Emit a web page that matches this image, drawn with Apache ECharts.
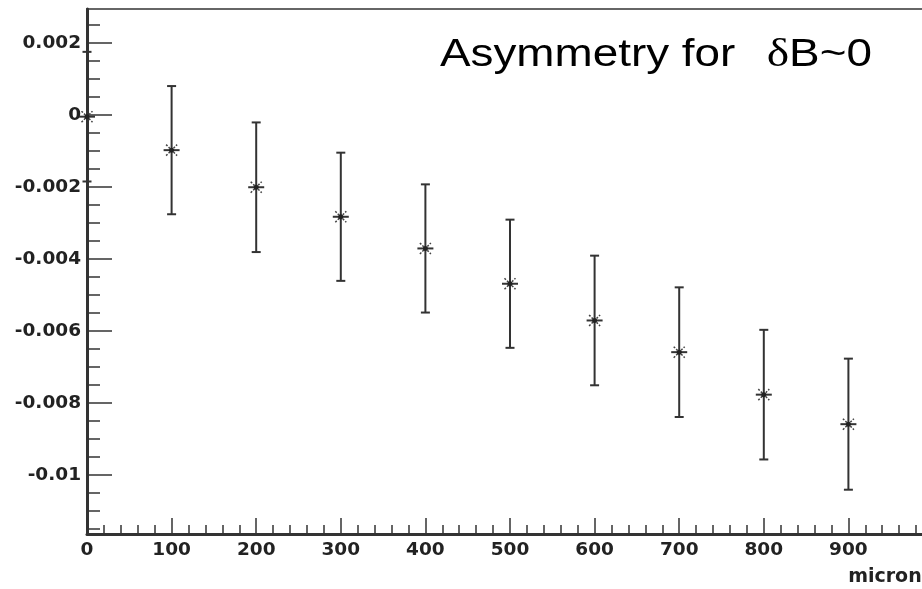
<!DOCTYPE html>
<html>
<head>
<meta charset="utf-8">
<script src="https://cdn.jsdelivr.net/npm/echarts@6/dist/echarts.min.js"></script>
<style>html,body{margin:0;padding:0;background:#fff;}#c{width:922px;height:589px;}</style>
</head>
<body>
<div id="c"></div>
<script>
// ---- data ----
const positions = [0, 100, 200, 300, 400, 500, 600, 700, 800, 900];           // micron
const asymmetry = [-0.00005, -0.00098, -0.00201, -0.00283, -0.00371, -0.00469, -0.00571, -0.00659, -0.00777, -0.00859];
const errors    = [0.0018, 0.00178, 0.0018, 0.00178, 0.00178, 0.00178, 0.0018, 0.0018, 0.0018, 0.00182];
const yMajorTicks = [0.002, 0, -0.002, -0.004, -0.006, -0.008, -0.01];
const yMinorTicks = [0.0025, 0.0015, 0.001, 0.0005, -0.0005, -0.001, -0.0015, -0.0025, -0.003, -0.0035,
  -0.0045, -0.005, -0.0055, -0.0065, -0.007, -0.0075, -0.0085, -0.009, -0.0095, -0.0105, -0.011, -0.0115];
const xTickLabels = ['0', '100', '200', '300', '400', '500', '600', '700', '800', '900'];
const titleText = 'Asymmetry for  ';
const xTitle = 'microns';

const FONT = "'Liberation Sans', Arial, sans-serif";
const LABEL_FONT = "'DejaVu Sans', 'Liberation Sans', sans-serif";
const AXIS_COLOR = '#333';
const yMin = -0.01164, yMax = 0.00294;

const chart = echarts.init(document.getElementById('c'), null, {renderer: 'canvas'});
const data = positions.map((x, i) => [x, asymmetry[i], errors[i]]);

chart.setOption({
  animation: false,
  backgroundColor: '#fff',
  grid: {left: 87, right: -11, top: 9, bottom: 55, show: true, borderColor: '#666', borderWidth: 2,
         outerBoundsMode: 'none', containLabel: false},
  xAxis: {
    type: 'value', min: 0, max: 1000, interval: 100,
    axisLine: {show: true, onZero: false, lineStyle: {color: AXIS_COLOR, width: 3}},
    axisTick: {show: true, inside: true, length: 16, lineStyle: {color: AXIS_COLOR, width: 1.5}},
    minorTick: {show: true, splitNumber: 5, length: 9, lineStyle: {color: AXIS_COLOR, width: 1.5}},
    splitLine: {show: false},
    axisLabel: {
      margin: 7, color: '#222', fontFamily: LABEL_FONT, fontWeight: 'bold', fontSize: 18.5,
      formatter: v => { const i = positions.indexOf(v); return i >= 0 ? xTickLabels[i] : ''; }
    }
  },
  yAxis: [{
    type: 'value', min: yMin, max: yMax, position: 'left',
    axisLine: {show: true, onZero: false, lineStyle: {color: AXIS_COLOR, width: 3}},
    axisTick: {show: true, inside: true, length: 25, customValues: yMajorTicks, lineStyle: {color: AXIS_COLOR, width: 1.5}},
    splitLine: {show: false},
    axisLabel: {
      customValues: yMajorTicks, margin: 6, color: '#222', fontFamily: LABEL_FONT, fontWeight: 'bold', fontSize: 18.5,
      formatter: v => String(+(+v).toFixed(3))
    }
  }, {
    type: 'value', min: yMin, max: yMax, position: 'left', offset: 0,
    axisLine: {show: false},
    axisTick: {show: true, inside: true, length: 13, customValues: yMinorTicks, lineStyle: {color: AXIS_COLOR, width: 1.5}},
    axisLabel: {show: false, customValues: yMinorTicks},
    splitLine: {show: false}
  }],
  series: [{
    type: 'custom',
    z: 10,
    clip: false,
    data: data,
    renderItem: function (params, api) {
      const x = api.value(0), v = api.value(1), e = api.value(2);
      const p = api.coord([x, v]);
      const t = api.coord([x, v + e]);
      const b = api.coord([x, v - e]);
      const st = {stroke: '#333', lineWidth: 2};
      const cap = 4.5, h = 8, d = 5.5;
      return {
        type: 'group',
        children: [
          {type: 'line', shape: {x1: t[0], y1: t[1], x2: b[0], y2: b[1]}, style: st},
          {type: 'line', shape: {x1: t[0] - cap, y1: t[1], x2: t[0] + cap, y2: t[1]}, style: st},
          {type: 'line', shape: {x1: b[0] - cap, y1: b[1], x2: b[0] + cap, y2: b[1]}, style: st},
          {type: 'line', shape: {x1: p[0] - h, y1: p[1], x2: p[0] + h, y2: p[1]}, style: st},
          {type: 'line', shape: {x1: p[0] - d, y1: p[1] - d, x2: p[0] + d, y2: p[1] + d}, style: {stroke: '#444', lineWidth: 1.5, lineDash: [2, 1.5]}},
          {type: 'line', shape: {x1: p[0] - d, y1: p[1] + d, x2: p[0] + d, y2: p[1] - d}, style: {stroke: '#444', lineWidth: 1.5, lineDash: [2, 1.5]}},
          {type: 'circle', shape: {cx: p[0], cy: p[1], r: 2.5}, style: {fill: '#222'}}
        ]
      };
    }
  }],
  graphic: [{
    type: 'text', x: 440, y: 35, scaleX: 1.19, z: 20,
    style: {
      text: '{a|' + titleText + '}{d|δ}{a|B~0}',
      verticalAlign: 'top', align: 'left',
      rich: {
        a: {fontFamily: FONT, fontSize: 38.5, fill: '#000'},
        d: {fontFamily: "'Liberation Serif', 'Times New Roman', serif", fontSize: 40, fill: '#000', padding: [0, 0, 0, 5]}
      }
    }
  }, {
    type: 'text', x: 933, y: 568, z: 20,
    style: {text: xTitle, fontFamily: LABEL_FONT, fontWeight: 'bold', fontSize: 19, fill: '#222', align: 'right', verticalAlign: 'top'}
  }]
});
</script>
</body>
</html>
